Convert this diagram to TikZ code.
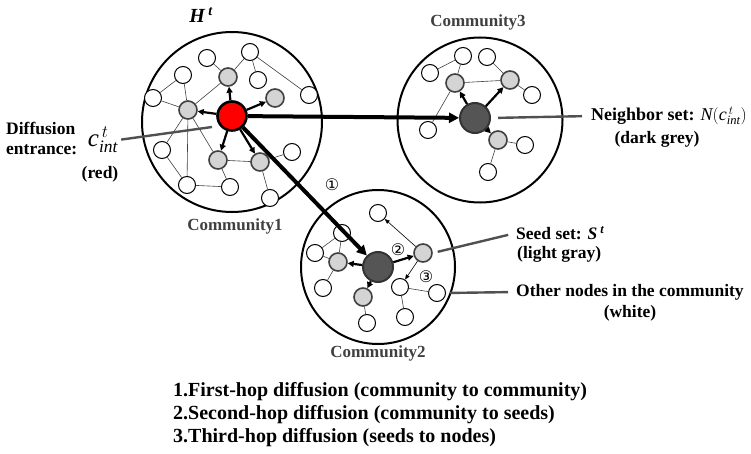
\documentclass[tikz,border=0pt]{standalone}
\usepackage{fontspec}
\setmainfont{Liberation Serif}
\newfontfamily\circfont{DejaVu Sans}
\usetikzlibrary{arrows.meta}
\definecolor{seedgray}{RGB}{212,212,212}
\definecolor{darkfill}{RGB}{85,85,85}
\definecolor{comtext}{RGB}{64,64,64}
\definecolor{pointgray}{RGB}{80,80,80}
\tikzset{
	whitenode/.style = {draw, circle, fill = white, line width = 1pt, minimum size = 17pt, inner sep = 0pt},
	seednode/.style = {draw = black!75, circle, fill = seedgray, line width = 1.6pt, minimum size = 18pt, inner sep = 0pt},
	darknode/.style = {draw = black!80, circle, fill = darkfill, line width = 2pt, minimum size = 30pt, inner sep = 0pt},
	entrynode/.style = {draw, circle, fill = red, line width = 2.6pt, minimum size = 29pt, inner sep = 0pt},
	community/.style = {draw, circle, line width = 2pt, inner sep = 0pt},
	link/.style = {line width = 0.6pt, black!75},
	hop/.style = {line width = 2.2pt, -{Triangle[length = 6pt, width = 6pt]}},
	jump/.style = {line width = 4pt, -{Triangle[length = 10pt, width = 10pt]}},
	thinhop/.style = {line width = 0.6pt, -{Triangle[length = 5pt, width = 4pt]}},
	pointer/.style = {line width = 2.4pt, pointgray},
	comlabel/.style = {text = comtext, font = \fontsize{17}{20}\selectfont\bfseries, inner sep = 0pt},
	infolabel/.style = {font = \fontsize{17.5}{20}\selectfont\bfseries, inner sep = 0pt},
	hopmark/.style = {font = \circfont\fontsize{16}{16}\selectfont, inner sep = 0pt}
}
\begin{document}
\begin{tikzpicture}[x = 1pt, y = -1pt]
	\useasboundingbox (0, 0) rectangle (751, 454);
	\node [community, minimum size = 180pt] (com1) at (232, 122) {};
	\node [community, minimum size = 165pt] (com3) at (480, 120) {};
	\node [community, minimum size = 154pt] (com2) at (378, 267) {};
	\node [comlabel] (com1lbl) at (235, 226) {Community1};
	\node [comlabel] (com2lbl) at (378, 353) {Community2};
	\node [comlabel] (com3lbl) at (478, 22) {Community3};
	\node [infolabel, font = \fontsize{20}{20}\selectfont\bfseries\itshape] (hlbl) at (201, 15) {H\,\textsuperscript{t}};

	\node [entrynode] (entry) at (232, 116) {};
	\node [seednode] (g1) at (188, 110) {};
	\node [seednode] (g2) at (228, 77) {};
	\node [seednode] (g3) at (218, 160) {};
	\node [seednode] (g4) at (260, 162) {};
	\node [seednode] (g5) at (275, 98) {};
	\node [whitenode] (wa) at (207, 58) {};
	\node [whitenode] (wb) at (183, 75) {};
	\node [whitenode] (wc) at (153, 98) {};
	\node [whitenode] (wd) at (162, 150) {};
	\node [whitenode] (we) at (187, 185) {};
	\node [whitenode] (wf) at (230, 187) {};
	\node [whitenode] (wh) at (250, 52) {};
	\node [whitenode] (wi) at (258, 80) {};
	\node [whitenode] (wj) at (309, 95) {};
	\node [whitenode] (wk) at (292, 152) {};
	\node [whitenode] (wm) at (270, 198) {};
	\draw [link] (wb) -- (wc);
	\draw [link] (wb) -- (g1);
	\draw [link] (wc) -- (g1);
	\draw [link] (g1) -- (g2);
	\draw [link] (wa) -- (g2);
	\draw [link] (g1) -- (wd);
	\draw [link] (g1) -- (we);
	\draw [link] (g1) -- (g3);
	\draw [link] (wd) -- (we);
	\draw [link] (we) -- (wf);
	\draw [link] (g3) -- (wf);
	\draw [link] (g3) -- (g4);
	\draw [link] (wh) -- (g2);
	\draw [link] (wh) -- (wi);
	\draw [link] (wh) -- (wj);
	\draw [link] (g4) -- (wk);
	\draw [link] (g4) -- (wm);
	\draw [hop] (entry) -- (g1);
	\draw [hop] (entry) -- (g2);
	\draw [hop] (entry) -- (g3);
	\draw [hop] (entry) -- (g4);
	\draw [hop] (entry) -- (g5);

	\node [darknode] (d3) at (475, 118) {};
	\node [seednode] (t1) at (455, 83) {};
	\node [seednode] (t2) at (510, 80) {};
	\node [seednode] (t3) at (498, 140) {};
	\node [whitenode] (xa) at (463, 56) {};
	\node [whitenode] (xb) at (430, 73) {};
	\node [whitenode] (xc) at (487, 57) {};
	\node [whitenode] (xd) at (532, 95) {};
	\node [whitenode] (xe) at (428, 130) {};
	\node [whitenode] (xf) at (525, 145) {};
	\node [whitenode] (xg) at (488, 172) {};
	\draw [link] (xb) -- (xa);
	\draw [link] (xa) -- (t1);
	\draw [link] (t1) -- (t2);
	\draw [link] (t1) -- (xe);
	\draw [link] (xc) -- (t2);
	\draw [link] (t2) -- (xd);
	\draw [link] (t3) -- (xf);
	\draw [link] (t3) -- (xg);
	\draw [hop] (d3) -- (t1);
	\draw [hop] (d3) -- (t2);
	\draw [hop] (d3) -- (t3);

	\node [darknode] (d2) at (378, 267) {};
	\node [seednode] (s1) at (423, 253) {};
	\node [seednode] (s2) at (338, 262) {};
	\node [seednode] (s3) at (363, 297) {};
	\node [whitenode] (y1) at (378, 213) {};
	\node [whitenode] (y2) at (342, 233) {};
	\node [whitenode] (y3) at (315, 253) {};
	\node [whitenode] (y4) at (323, 288) {};
	\node [whitenode] (y5) at (400, 287) {};
	\node [whitenode] (y6) at (437, 293) {};
	\node [whitenode] (y7) at (405, 317) {};
	\node [whitenode] (y8) at (367, 323) {};
	\draw [thinhop] (s1) -- (y1);
	\draw [thinhop] (s1) -- (y5);
	\draw [link] (y5) -- (y6);
	\draw [link] (y5) -- (y7);
	\draw [link] (s2) -- (y2);
	\draw [link] (s2) -- (y3);
	\draw [link] (s2) -- (y4);
	\draw [link] (y2) -- (y3);
	\draw [link] (s3) -- (y8);
	\draw [hop] (d2) -- (s1);
	\draw [hop] (d2) -- (s2);
	\draw [hop] (d2) -- (s3);

	\draw [jump] (entry) -- (d3);
	\draw [jump] (entry) -- (d2);
	\node [hopmark] (hop1) at (332, 185) {①};
	\node [hopmark] (hop2) at (398, 250) {②};
	\node [hopmark] (hop3) at (426, 277) {③};

	\node [infolabel, align = left, anchor = west] (lbldiff) at (6, 138) {Diffusion\\entrance:};
	\node [inner sep = 0pt, font = \fontsize{25}{25}\selectfont] (lblc) at (103, 140) {$\mathit{c}^{\,t}_{\mathit{int}}$};
	\node [infolabel] (lblred) at (100, 174) {(red)};
	\coordinate (diffend) at (212, 127);
	\draw [pointer, shorten < = 3pt] (lblc.east) -- (diffend);

	\node [infolabel, anchor = west, font = \fontsize{18}{20}\selectfont\bfseries] (lblneighbor) at (591, 116) {Neighbor set: \mdseries$\mathit{N}(\mathit{c}^{\,t}_{\mathit{int}})$};
	\node [infolabel] (lbldark) at (657, 139) {(dark grey)};
	\draw [pointer, shorten < = 7pt, shorten > = 9pt] (d3.east) -- (lblneighbor.west);

	\node [infolabel, anchor = west] (lblseed) at (516, 233) {Seed set: \textit{S\,\textsuperscript{t}}};
	\node [infolabel, anchor = west] (lbllight) at (517, 254) {(light gray)};
	\draw [pointer, shorten < = 5pt, shorten > = 8pt] (s1.east) -- (lblseed.west);

	\node [infolabel, anchor = west] (lblother) at (516, 292) {Other nodes in the community};
	\node [infolabel] (lblwhite) at (630, 313) {(white)};
	\draw [pointer, shorten < = 4pt, shorten > = 8pt] (y6.east) -- (lblother.west);

	\node [anchor = north west, align = left, inner sep = 0pt, font = \fontsize{20}{23}\selectfont\bfseries] (legend) at (173, 382) {1.First-hop diffusion (community to community)\\2.Second-hop diffusion (community to seeds)\\3.Third-hop diffusion (seeds to nodes)};
\end{tikzpicture}
\end{document}
